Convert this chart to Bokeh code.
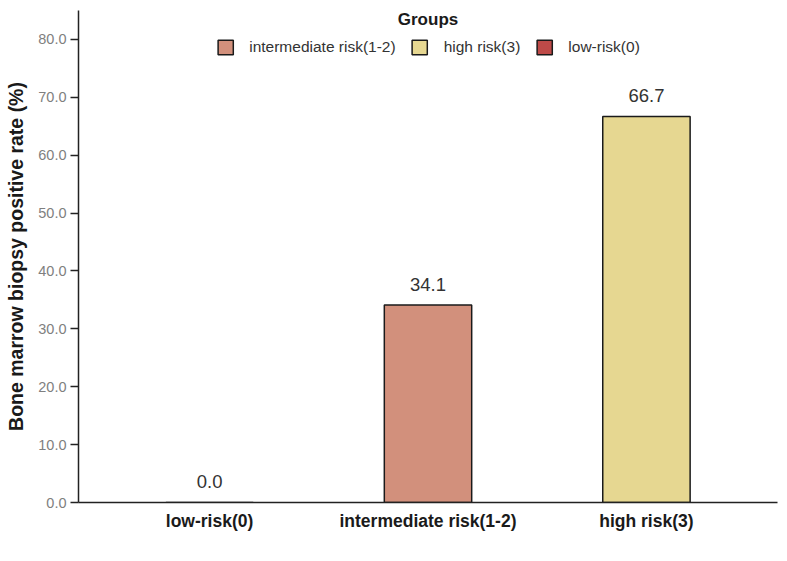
from bokeh.plotting import figure
from bokeh.models import (ColumnDataSource, FactorRange, Range1d, FixedTicker,
                          PrintfTickFormatter, Legend, LegendItem, Label)
from bokeh.core.properties import value
from bokeh.embed import file_html
from bokeh.resources import INLINE

# Data
groups = ["low-risk(0)", "intermediate risk(1-2)", "high risk(3)"]
rates = [0.0, 34.1, 66.7]
colors = ["#BE4A48", "#D2907C", "#E6D791"]
legend_order = ["intermediate risk(1-2)", "high risk(3)", "low-risk(0)"]
y_ticks = [0, 10, 20, 30, 40, 50, 60, 70, 80]

FONT = "Liberation Sans"

source = ColumnDataSource(data=dict(
    group=groups,
    rate=rates,
    color=colors,
    label=["%.1f" % r for r in rates],
))

# Figure
p = figure(x_range=FactorRange(factors=groups, range_padding=0.2 / 3),
           y_range=Range1d(0, 85),
           width=779, height=553,
           output_backend="svg", toolbar_location=None,
           min_border_left=78, min_border_right=2,
           min_border_top=10, min_border_bottom=51)

# Bars
bars = p.vbar(x="group", top="rate", width=0.4, source=source,
              fill_color="color", line_color="#1a1a1a", line_width=1.5)

# Value labels above the bars
p.text(x="group", y="rate", text="label", source=source,
       text_align="center", text_baseline="alphabetic", y_offset=-21,
       text_font=value(FONT), text_font_size="18.5px", text_color="#333333")

# Legend (order differs from the bars)
items = [LegendItem(label=g, renderers=[bars], index=groups.index(g))
         for g in legend_order]
legend = Legend(items=items, orientation="horizontal", location="top_center",
                margin=28, padding=0, spacing=14, label_standoff=15,
                glyph_width=19, glyph_height=18,
                label_text_font=FONT, label_text_font_size="15.5px",
                label_text_color="#333333",
                border_line_color=None, background_fill_alpha=0)
p.add_layout(legend)

p.add_layout(Label(x=1.5, y=83.4, text="Groups", text_align="center",
                   text_baseline="alphabetic", text_font=FONT,
                   text_font_size="17px", text_font_style="bold",
                   text_color="#1a1a1a"))

# Axes
p.xgrid.grid_line_color = None
p.ygrid.grid_line_color = None
p.outline_line_color = None

p.xaxis.major_tick_line_color = None
p.xaxis.minor_tick_line_color = None
p.xaxis.axis_line_color = "#222222"
p.xaxis.axis_line_width = 1.5
p.xaxis.major_label_standoff = 2
p.xaxis.major_label_text_font = FONT
p.xaxis.major_label_text_font_size = "17.5px"
p.xaxis.major_label_text_font_style = "bold"
p.xaxis.major_label_text_color = "#1a1a1a"

p.yaxis.ticker = FixedTicker(ticks=y_ticks)
p.yaxis.formatter = PrintfTickFormatter(format="%.1f")
p.yaxis.minor_tick_line_color = None
p.yaxis.major_tick_in = 0
p.yaxis.major_tick_out = 8
p.yaxis.major_tick_line_color = "#222222"
p.yaxis.major_tick_line_width = 1.5
p.yaxis.axis_line_color = "#222222"
p.yaxis.axis_line_width = 1.5
p.yaxis.major_label_standoff = 4
p.yaxis.major_label_text_font = FONT
p.yaxis.major_label_text_font_size = "14.5px"
p.yaxis.major_label_text_color = "#7f7f7f"
p.yaxis.axis_label = "Bone marrow biopsy positive rate (%)"
p.yaxis.axis_label_standoff = 8
p.yaxis.axis_label_text_font = FONT
p.yaxis.axis_label_text_font_size = "19.5px"
p.yaxis.axis_label_text_font_style = "bold"
p.yaxis.axis_label_text_color = "#1a1a1a"

open("out.html", "w").write(file_html(p, INLINE))
